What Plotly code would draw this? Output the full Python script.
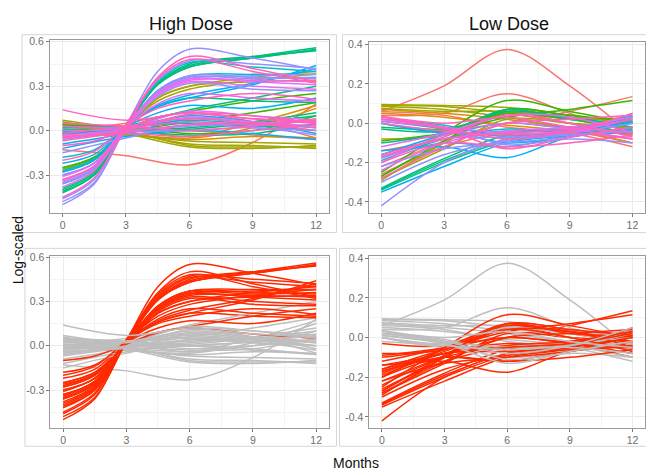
import plotly.graph_objects as go

# ---------------- data ----------------
MONTHS = [0, 3, 6, 9, 12]
MONTHS_FINE = [0, 1.5, 3, 4.5, 6, 9, 12]
GROUP_ORDER = ["salmon", "orange", "olive", "green", "tgreen", "teal", "cyan", "lav", "violet", "pink"]
GROUP_COLORS = {
    "salmon": "#F8766D", "orange": "#D89000", "olive": "#A3A500", "green": "#39B600",
    "tgreen": "#00BF7D", "teal": "#00BFC4", "cyan": "#00B0F6", "lav": "#9590FF",
    "violet": "#E76BF3", "pink": "#FF62BC",
}
HIGHLIGHT_COLOR = "#FF2A00"
OTHER_COLOR = "#BEBEBE"

# High dose: responders (red in lower panel), values at MONTHS_FINE
high_resp = [
    ("lav", [-0.48, -0.35, 0.03, 0.40, 0.55, 0.49, 0.41]),
    ("lav", [-0.46, -0.33, 0.04, 0.34, 0.47, 0.45, 0.42]),
    ("tgreen", [-0.40, -0.29, 0.02, 0.31, 0.43, 0.49, 0.55]),
    ("tgreen", [-0.41, -0.30, 0.02, 0.32, 0.44, 0.50, 0.56]),
    ("tgreen", [-0.39, -0.28, 0.03, 0.32, 0.45, 0.50, 0.54]),
    ("tgreen", [-0.42, -0.30, 0.02, 0.31, 0.43, 0.49, 0.545]),
    ("pink", [-0.33, -0.24, 0.04, 0.36, 0.50, 0.42, 0.33]),
    ("cyan", [-0.30, -0.22, 0.02, 0.16, 0.22, 0.31, 0.44]),
    ("cyan", [-0.28, -0.20, 0.03, 0.17, 0.24, 0.32, 0.42]),
    ("teal", [-0.27, -0.19, 0.04, 0.33, 0.46, 0.43, 0.40]),
    ("lav", [-0.36, -0.26, 0.02, 0.27, 0.37, 0.36, 0.35]),
    ("lav", [-0.35, -0.25, 0.03, 0.26, 0.36, 0.35, 0.36]),
    ("violet", [-0.34, -0.24, 0.02, 0.25, 0.35, 0.33, 0.31]),
    ("violet", [-0.33, -0.24, 0.04, 0.25, 0.34, 0.34, 0.33]),
    ("olive", [-0.25, -0.18, 0.02, 0.22, 0.30, 0.36, 0.40]),
    ("olive", [-0.26, -0.19, 0.03, 0.20, 0.28, 0.34, 0.38]),
    ("violet", [-0.31, -0.22, 0.02, 0.18, 0.25, 0.22, 0.20]),
    ("green", [-0.25, -0.18, 0.00, 0.09, 0.13, 0.20, 0.25]),
    ("lav", [-0.30, -0.22, 0.02, 0.23, 0.32, 0.28, 0.27]),
    ("pink", [-0.20, -0.14, 0.03, 0.15, 0.20, 0.25, 0.21]),
    ("cyan", [-0.22, -0.16, 0.02, 0.12, 0.17, 0.15, 0.22]),
    ("teal", [-0.18, -0.13, 0.03, 0.27, 0.37, 0.38, 0.38]),
    ("pink", [-0.10, -0.07, 0.01, 0.09, 0.12, 0.08, 0.05]),
    ("orange", [-0.28, -0.20, 0.01, 0.22, 0.30, 0.33, 0.34]),
    ("lav", [-0.50, -0.36, 0.02, 0.25, 0.35, 0.37, 0.38]),
    ("tgreen", [-0.36, -0.26, 0.02, 0.16, 0.22, 0.20, 0.19]),
    ("pink", [-0.45, -0.32, 0.02, 0.35, 0.48, 0.40, 0.32]),
    ("violet", [-0.38, -0.27, 0.03, 0.24, 0.33, 0.30, 0.28]),
]
# High dose: non-responders (grey in lower panel), values at MONTHS
high_flat = [
    ("pink", [0.14, 0.07, 0.12, 0.10, 0.05]),
    ("olive", [0.07, 0.00, -0.10, -0.11, -0.11]),
    ("olive", [0.06, -0.01, -0.09, -0.10, -0.12]),
    ("olive", [0.05, -0.02, -0.11, -0.12, -0.10]),
    ("olive", [0.04, -0.02, -0.07, -0.08, -0.09]),
    ("salmon", [-0.13, -0.17, -0.23, -0.08, 0.18]),
    ("orange", [0.02, 0.01, -0.04, 0.05, 0.17]),
    ("orange", [-0.04, -0.03, -0.05, 0.02, 0.15]),
    ("salmon", [0.00, 0.05, 0.12, 0.06, -0.05]),
    ("tgreen", [-0.02, 0.00, 0.02, 0.06, 0.12]),
    ("tgreen", [-0.03, 0.00, 0.01, 0.05, 0.10]),
    ("green", [-0.01, 0.00, 0.06, 0.12, 0.19]),
    ("cyan", [-0.09, -0.02, 0.08, 0.05, 0.02]),
    ("cyan", [-0.02, 0.02, 0.10, 0.06, -0.02]),
    ("teal", [-0.01, 0.02, 0.07, 0.04, 0.00]),
    ("teal", [0.02, 0.03, 0.05, 0.03, 0.04]),
    ("lav", [-0.05, 0.00, 0.03, 0.05, 0.06]),
    ("lav", [-0.06, -0.01, 0.00, 0.02, -0.03]),
    ("violet", [-0.03, 0.01, 0.09, 0.06, 0.03]),
    ("violet", [0.00, 0.02, 0.13, 0.10, 0.07]),
    ("pink", [0.03, 0.02, 0.06, 0.04, 0.08]),
    ("pink", [-0.05, 0.00, 0.11, 0.08, 0.06]),
    ("pink", [-0.07, -0.01, 0.04, 0.05, 0.02]),
    ("pink", [0.05, 0.03, 0.00, 0.03, 0.07]),
    ("pink", [-0.02, 0.03, 0.08, 0.05, 0.00]),
    ("green", [0.04, 0.02, -0.02, 0.00, 0.10]),
    ("tgreen", [0.01, 0.00, -0.03, -0.02, 0.05]),
    ("salmon", [0.04, 0.03, 0.00, -0.03, -0.06]),
    ("orange", [0.00, -0.03, -0.06, -0.04, -0.05]),
    ("cyan", [-0.12, -0.04, 0.00, -0.02, -0.06]),
    ("lav", [-0.15, -0.05, 0.04, 0.02, 0.00]),
    ("tgreen", [-0.02, 0.03, 0.14, 0.22, 0.30]),
    ("pink", [-0.04, -0.02, -0.04, 0.00, 0.04]),
]

# Low dose: responders (values at MONTHS)
low_resp = [
    ("lav", [-0.42, -0.20, -0.08, -0.05, 0.00]),
    ("tgreen", [-0.34, -0.20, -0.09, -0.05, 0.02]),
    ("tgreen", [-0.335, -0.19, -0.08, -0.04, 0.03]),
    ("cyan", [-0.35, -0.22, -0.10, -0.06, 0.00]),
    ("cyan", [-0.14, -0.12, -0.175, -0.07, -0.05]),
    ("olive", [-0.28, -0.13, 0.02, 0.00, -0.02]),
    ("olive", [-0.27, -0.10, 0.05, 0.03, 0.00]),
    ("olive", [-0.29, -0.10, 0.06, 0.02, -0.03]),
    ("green", [-0.25, -0.05, 0.115, 0.06, 0.00]),
    ("green", [-0.09, -0.05, 0.03, 0.07, 0.115]),
    ("green", [-0.27, -0.09, 0.07, 0.04, 0.01]),
    ("salmon", [-0.14, -0.08, 0.00, 0.06, 0.135]),
    ("salmon", [-0.26, -0.12, -0.05, -0.04, -0.10]),
    ("pink", [-0.20, -0.10, -0.12, -0.10, -0.06]),
    ("pink", [-0.16, -0.08, -0.05, -0.03, 0.02]),
    ("pink", [-0.17, -0.07, 0.04, 0.00, -0.07]),
    ("lav", [-0.22, -0.13, -0.10, -0.07, -0.02]),
    ("lav", [-0.18, -0.08, -0.07, -0.05, 0.05]),
    ("violet", [-0.24, -0.10, -0.04, -0.02, 0.03]),
    ("violet", [-0.20, -0.06, 0.00, -0.03, -0.08]),
    ("teal", [-0.17, -0.10, -0.12, -0.06, 0.01]),
    ("teal", [-0.19, -0.08, -0.03, -0.05, -0.04]),
    ("tgreen", [-0.03, -0.04, 0.06, 0.03, -0.02]),
    ("tgreen", [-0.10, -0.05, 0.07, 0.02, 0.00]),
    ("orange", [-0.08, -0.06, 0.07, 0.04, 0.00]),
    ("pink", [-0.28, -0.12, 0.00, 0.02, 0.04]),
    ("salmon", [-0.22, -0.09, 0.05, 0.00, -0.05]),
    ("cyan", [-0.16, -0.06, 0.00, -0.02, 0.03]),
    ("violet", [-0.12, -0.05, 0.04, 0.03, -0.05]),
    ("lav", [-0.30, -0.16, -0.09, -0.06, -0.04]),
    ("tgreen", [-0.33, -0.18, -0.06, -0.03, 0.01]),
]
# Low dose: non-responders (values at MONTHS)
low_flat = [
    ("salmon", [0.06, 0.19, 0.375, 0.19, -0.06]),
    ("salmon", [0.04, 0.05, 0.15, 0.05, -0.05]),
    ("olive", [0.095, 0.09, 0.08, 0.04, 0.00]),
    ("olive", [0.09, 0.085, 0.05, 0.00, -0.05]),
    ("olive", [0.085, 0.07, 0.03, -0.03, -0.08]),
    ("olive", [0.075, 0.06, 0.06, 0.02, 0.03]),
    ("orange", [0.07, 0.05, 0.02, -0.02, -0.06]),
    ("orange", [0.05, 0.03, -0.01, -0.04, -0.10]),
    ("salmon", [0.06, 0.04, -0.02, -0.05, -0.12]),
    ("teal", [0.02, -0.01, -0.07, -0.05, -0.03]),
    ("cyan", [0.01, -0.03, -0.10, -0.06, 0.04]),
    ("pink", [0.03, -0.02, -0.08, -0.04, 0.05]),
    ("pink", [0.02, -0.03, -0.13, -0.07, -0.02]),
    ("pink", [0.00, -0.04, -0.06, -0.05, -0.08]),
    ("violet", [0.01, -0.02, -0.05, -0.04, 0.02]),
    ("lav", [0.02, -0.02, -0.11, -0.08, -0.10]),
    ("green", [0.00, -0.03, 0.05, 0.02, -0.04]),
    ("tgreen", [-0.02, -0.04, -0.06, -0.05, 0.05]),
    ("pink", [0.035, 0.00, 0.03, -0.02, -0.05]),
    ("cyan", [0.00, -0.05, -0.04, -0.03, 0.00]),
]

TITLES = ["High Dose", "Low Dose"]
X_TICKS = [0, 3, 6, 9, 12]
X_TICKTEXT = ["0", "3", "6", "9", "12"]
HIGH_Y_TICKS = [-0.3, 0.0, 0.3, 0.6]
HIGH_Y_TICKTEXT = ["-0.3", "0.0", "0.3", "0.6"]
LOW_Y_TICKS = [-0.4, -0.2, 0.0, 0.2, 0.4]
LOW_Y_TICKTEXT = ["-0.4", "-0.2", "0.0", "0.2", "0.4"]

# ---------------- figure ----------------
W, H = 646, 471


def px_x(p):
    return p / W


def px_y(p):
    return 1 - p / H


fig = go.Figure()

panels = {
    # name: (xaxis id, yaxis id, x domain px, y domain px, y range)
    "TL": ("x", "y", (50, 329.3), (35.7, 210), (-0.555, 0.61)),
    "TR": ("x2", "y2", (369.3, 646), (37.3, 210), (-0.455, 0.413)),
    "BL": ("x3", "y3", (50.5, 329.3), (253.3, 427.3), (-0.555, 0.61)),
    "BR": ("x4", "y4", (370, 646), (253.3, 427.3), (-0.455, 0.413)),
}


def add_lines(panel, resp, flat, highlight):
    xa, ya = panels[panel][0], panels[panel][1]
    items = [(g, v, True) for g, v in resp] + [(g, v, False) for g, v in flat]
    items = sorted(items, key=lambda t: GROUP_ORDER.index(t[0]))
    for g, vals, is_resp in items:
        if highlight:
            col = HIGHLIGHT_COLOR if is_resp else OTHER_COLOR
        else:
            col = GROUP_COLORS[g]
        xs = MONTHS_FINE if len(vals) == len(MONTHS_FINE) else MONTHS
        fig.add_trace(go.Scatter(
            x=xs, y=vals, mode="lines", xaxis=xa, yaxis=ya,
            line=dict(color=col, width=1.5, shape="spline", smoothing=0.95),
            showlegend=False, hoverinfo="skip",
        ))


add_lines("TL", high_resp, high_flat, False)
add_lines("TR", low_resp, low_flat, False)
add_lines("BL", high_resp, high_flat, True)
add_lines("BR", low_resp, low_flat, True)

TICK_FONT = dict(family="Liberation Sans, Arial, sans-serif", size=10.5, color="#6e6e6e")

layout = dict(
    width=W, height=H, margin=dict(l=0, r=0, t=0, b=0),
    paper_bgcolor="white", plot_bgcolor="white", showlegend=False,
)

for name, (xa, ya, xd, yd, yr) in panels.items():
    xkey = "xaxis" + xa[1:]
    ykey = "yaxis" + ya[1:]
    low = name in ("TR", "BR")
    yt = LOW_Y_TICKS if low else HIGH_Y_TICKS
    ytt = LOW_Y_TICKTEXT if low else HIGH_Y_TICKTEXT
    yminor = [-0.3, -0.1, 0.1, 0.3] if low else [-0.45, -0.15, 0.15, 0.45]
    layout[xkey] = dict(
        domain=[px_x(xd[0]), px_x(xd[1])], range=[-0.6, 12.6], anchor=ya,
        tickmode="array", tickvals=X_TICKS, ticktext=X_TICKTEXT,
        showline=True, mirror=True, linecolor="#9a9a9a", linewidth=1,
        ticks="outside", ticklen=3, tickcolor="#7a7a7a", tickwidth=1,
        showgrid=True, gridcolor="#ebebeb", gridwidth=1, zeroline=False,
        minor=dict(tickmode="array", tickvals=[1.5, 4.5, 7.5, 10.5],
                   showgrid=True, gridcolor="#f4f4f4", gridwidth=0.6, ticks=""),
        tickfont=TICK_FONT, fixedrange=True,
    )
    layout[ykey] = dict(
        domain=[px_y(yd[1]), px_y(yd[0])], range=list(yr), anchor=xa,
        tickmode="array", tickvals=yt, ticktext=ytt,
        showline=True, mirror=True, linecolor="#9a9a9a", linewidth=1,
        ticks="outside", ticklen=3, tickcolor="#7a7a7a", tickwidth=1,
        showgrid=True, gridcolor="#ebebeb", gridwidth=1, zeroline=False,
        minor=dict(tickmode="array", tickvals=yminor,
                   showgrid=True, gridcolor="#f4f4f4", gridwidth=0.6, ticks=""),
        tickfont=TICK_FONT, fixedrange=True,
    )

fig.update_layout(**layout)

# outer light frames around each panel image
frames_px = [(22, 30, 337, 230), (343, 30, 650, 230), (25, 246, 337, 446), (340, 246, 650, 446)]
for x0, y0, x1, y1 in frames_px:
    fig.add_shape(type="rect", xref="paper", yref="paper",
                  x0=px_x(x0), x1=px_x(x1), y0=px_y(y1), y1=px_y(y0),
                  line=dict(color="#d6d6d6", width=1), layer="below")

TITLE_FONT = dict(family="Liberation Sans, Arial, sans-serif", size=18, color="#111111")
fig.add_annotation(text=TITLES[0], x=px_x(191), y=px_y(19), xref="paper", yref="paper",
                   showarrow=False, font=TITLE_FONT, xanchor="center", yanchor="middle")
fig.add_annotation(text=TITLES[1], x=px_x(510), y=px_y(19), xref="paper", yref="paper",
                   showarrow=False, font=TITLE_FONT, xanchor="center", yanchor="middle")

LABEL_FONT = dict(family="Liberation Sans, Arial, sans-serif", size=14, color="#111111")
fig.add_annotation(text="Log-scaled", x=px_x(18), y=px_y(247), xref="paper", yref="paper",
                   showarrow=False, font=LABEL_FONT, textangle=-90,
                   xanchor="center", yanchor="middle")
fig.add_annotation(text="Months", x=px_x(357), y=px_y(463), xref="paper", yref="paper",
                   showarrow=False, font=LABEL_FONT, xanchor="center", yanchor="middle")

fig.write_html(
    "out.html",
    config={"displayModeBar": False},
    post_script="document.body.style.margin='0';document.body.style.overflow='hidden';"
                "window.dispatchEvent(new Event('resize'));",
)
